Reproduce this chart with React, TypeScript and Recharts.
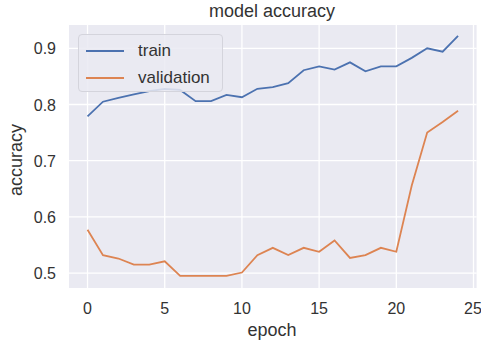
import React from "react";
import { LineChart, Line, XAxis, YAxis, CartesianGrid } from "recharts";

const epochs = [0, 1, 2, 3, 4, 5, 6, 7, 8, 9, 10, 11, 12, 13, 14, 15, 16, 17, 18, 19, 20, 21, 22, 23, 24];
const trainAcc = [
  0.779, 0.805, 0.812, 0.818, 0.824, 0.828, 0.826, 0.806, 0.806, 0.817, 0.813, 0.828, 0.831,
  0.838, 0.861, 0.868, 0.862, 0.875, 0.859, 0.868, 0.868, 0.883, 0.9, 0.894, 0.922,
];
const valAcc = [
  0.577, 0.532, 0.526, 0.515, 0.515, 0.521, 0.495, 0.495, 0.495, 0.495, 0.501, 0.532, 0.545,
  0.532, 0.545, 0.538, 0.558, 0.527, 0.532, 0.545, 0.538, 0.656, 0.75, 0.769, 0.789,
];
const xTicks = [0, 5, 10, 15, 20, 25];
const yTicks = [0.5, 0.6, 0.7, 0.8, 0.9];
const seriesNames = ["train", "validation"];

const W = 481;
const H = 349;
const PLOT = { left: 69, right: 476.6, top: 25, bottom: 288 };

const FONT = "'Liberation Sans', Arial, sans-serif";
const TEXT = "#333";
const BLUE = "#4C72B0";
const ORANGE = "#DD8452";
const COLORS = [BLUE, ORANGE];

const data = epochs.map((e, i) => ({ epoch: e, train: trainAcc[i], validation: valAcc[i] }));

const XTick = ({ x, y, payload }: any) => (
  <text x={x} y={y + 26} textAnchor="middle" fontSize={16} fill={TEXT} fontFamily={FONT}>
    {payload.value}
  </text>
);

const YTick = ({ x, y, payload }: any) => (
  <text x={x - 13} y={y + 6} textAnchor="end" fontSize={16} fill={TEXT} fontFamily={FONT}>
    {Number(payload.value).toFixed(1)}
  </text>
);

// matplotlib-style legend frame in the upper left corner of the axes
const LegendBox = () => (
  <div
    style={{
      position: "absolute",
      left: 78,
      top: 34,
      width: 145,
      height: 58,
      boxSizing: "border-box",
      background: "rgba(234,234,242,0.85)",
      border: "1px solid #d4d4dc",
      borderRadius: 4,
      fontFamily: FONT,
      fontSize: 17,
      color: TEXT,
      paddingTop: 2,
    }}
  >
    {seriesNames.map((name, i) => (
      <div key={name} style={{ display: "flex", alignItems: "center", height: 27 }}>
        <div style={{ width: 38, height: 2, background: COLORS[i], marginLeft: 7, marginRight: 14 }} />
        <span>{name}</span>
      </div>
    ))}
  </div>
);

export default function App() {
  return (
    <div style={{ position: "absolute", left: 0, top: 0, width: W, height: H, background: "#fff" }}>
      <LineChart
        width={W}
        height={H}
        data={data}
        margin={{ top: PLOT.top, right: W - PLOT.right, bottom: 0, left: 0 }}
      >
        <CartesianGrid
          fill="#EAEAF2"
          fillOpacity={1}
          stroke="#ffffff"
          strokeWidth={1.3}
          horizontalValues={yTicks}
          verticalValues={xTicks}
        />
        <XAxis
          dataKey="epoch"
          type="number"
          domain={[-1.2, 25.2]}
          ticks={xTicks}
          allowDataOverflow
          axisLine={false}
          tickLine={false}
          tickSize={0}
          tickMargin={0}
          height={H - PLOT.bottom}
          tick={<XTick />}
        />
        <YAxis
          type="number"
          domain={[0.4735, 0.9415]}
          ticks={yTicks}
          allowDataOverflow
          axisLine={false}
          tickLine={false}
          tickSize={0}
          tickMargin={0}
          width={PLOT.left}
          tick={<YTick />}
        />
        {seriesNames.map((name, i) => (
          <Line
            key={name}
            dataKey={name}
            stroke={COLORS[i]}
            strokeWidth={1.8}
            dot={false}
            isAnimationActive={false}
          />
        ))}
      </LineChart>
      <LegendBox />
      {/* title and axis labels */}
      <svg width={W} height={H} style={{ position: "absolute", left: 0, top: 0, pointerEvents: "none" }}>
        <text x={272} y={17} textAnchor="middle" fontSize={18} fill={TEXT} fontFamily={FONT}>
          model accuracy
        </text>
        <text x={272} y={336} textAnchor="middle" fontSize={18} fill={TEXT} fontFamily={FONT}>
          epoch
        </text>
        <text
          x={0}
          y={0}
          transform="translate(22,160) rotate(-90)"
          textAnchor="middle"
          fontSize={18}
          fill={TEXT}
          fontFamily={FONT}
        >
          accuracy
        </text>
      </svg>
    </div>
  );
}
